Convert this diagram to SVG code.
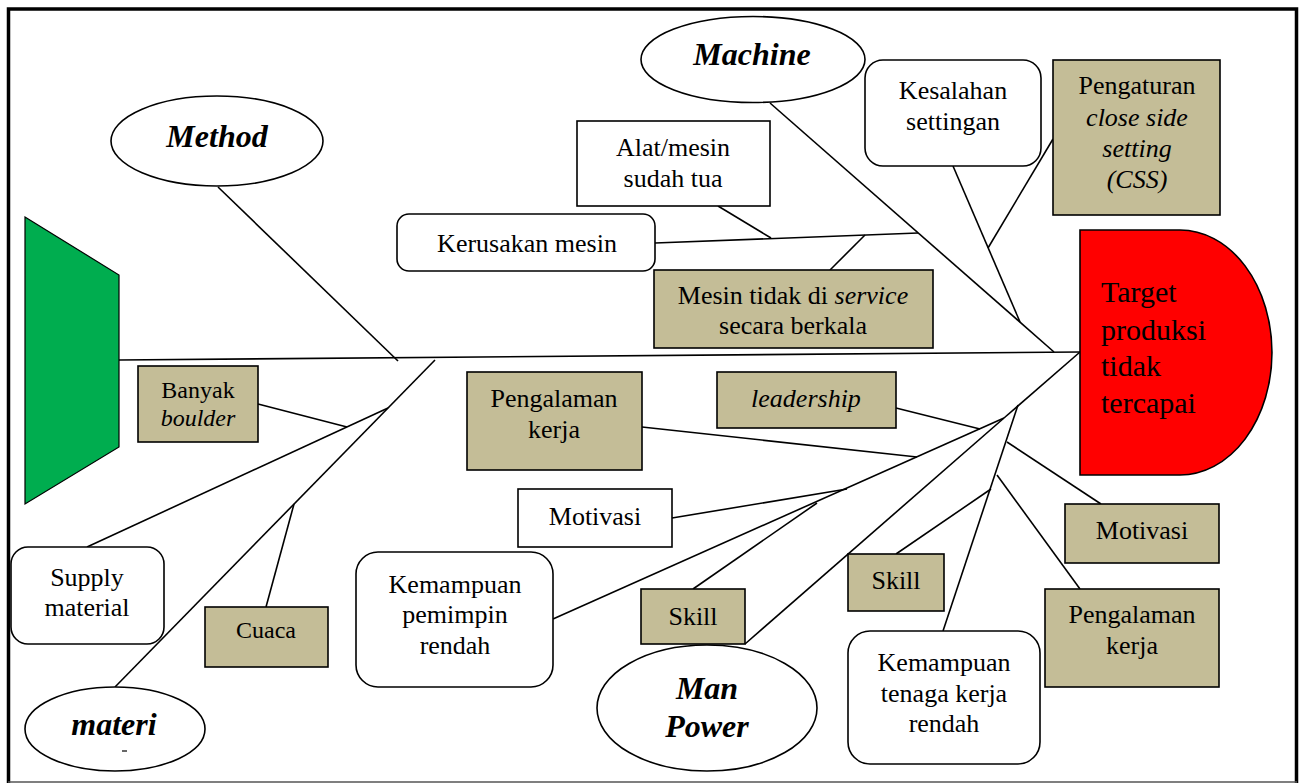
<svg xmlns="http://www.w3.org/2000/svg" width="1300" height="783" viewBox="0 0 1300 783">
<style>
.t{font-family:"Liberation Serif","Times New Roman",serif;font-size:26px;fill:#000;text-anchor:middle}
.s{font-size:24px}
.h{font-family:"Liberation Serif","Times New Roman",serif;font-size:32px;font-weight:bold;font-style:italic;text-anchor:middle}
.i{font-style:italic}
.tan{fill:#C4BD97;stroke:#000;stroke-width:1.6}
.wht{fill:#fff;stroke:#000;stroke-width:1.6}
.ell{fill:#fff;stroke:#000;stroke-width:1.6}
.c line{stroke:#000;stroke-width:1.6}
</style>
<rect x="0" y="0" width="1300" height="783" fill="#fff"/>
<g id="frame">
<path d="M8.5,783 V9 H1296.5 V783" fill="none" stroke="#000" stroke-width="3.5"/>
<line x1="8" y1="782" x2="1297" y2="782" stroke="#555" stroke-width="1.5"/>
</g>
<g class="c" id="connectors">
<line x1="119" y1="360" x2="1080" y2="352"/>
<line x1="218" y1="187" x2="398" y2="361"/>
<line x1="115" y1="687" x2="435" y2="360"/>
<line x1="87" y1="547" x2="388" y2="408"/>
<line x1="258" y1="404" x2="347" y2="427"/>
<line x1="266" y1="607" x2="294" y2="504"/>
<line x1="770" y1="103" x2="1054" y2="352"/>
<line x1="655" y1="243" x2="918" y2="233"/>
<line x1="718" y1="206" x2="771" y2="238"/>
<line x1="830" y1="270" x2="865" y2="235"/>
<line x1="953" y1="166" x2="1020" y2="322"/>
<line x1="1053" y1="139" x2="988" y2="248"/>
<line x1="1080" y1="352" x2="1004" y2="418"/>
<line x1="1004" y1="418" x2="553" y2="619"/>
<line x1="1004" y1="418" x2="745" y2="644"/>
<line x1="896" y1="408" x2="980" y2="429"/>
<line x1="642" y1="427" x2="917" y2="457"/>
<line x1="672" y1="518" x2="847" y2="489"/>
<line x1="693" y1="589" x2="817" y2="503"/>
<line x1="1018" y1="405" x2="943" y2="631"/>
<line x1="1101" y1="504" x2="1007" y2="442"/>
<line x1="1080" y1="589" x2="997" y2="475"/>
<line x1="896" y1="554" x2="991" y2="489"/>
</g>
<g id="tail"><polygon points="25,217 119,275 119,447 25,504" fill="#00AD4F" stroke="#000" stroke-width="1.2"/></g>
<g id="head">
<path d="M1080,230 H1180 A92,122.5 0 0 1 1180,475 H1080 Z" fill="#FF0000" stroke="#000" stroke-width="1.6"/>
<text font-family="Liberation Serif,'Times New Roman',serif" font-size="30" x="1101" y="302">Target</text>
<text font-family="Liberation Serif,'Times New Roman',serif" font-size="30" x="1101" y="340">produksi</text>
<text font-family="Liberation Serif,'Times New Roman',serif" font-size="30" x="1101" y="376">tidak</text>
<text font-family="Liberation Serif,'Times New Roman',serif" font-size="30" x="1101" y="413">tercapai</text>
</g>
<g id="method"><ellipse class="ell" cx="217" cy="141" rx="106" ry="45"/><text class="h" x="217" y="147">Method</text></g>
<g id="machine"><ellipse class="ell" cx="753" cy="59.5" rx="112" ry="43"/><text class="h" x="752" y="65">Machine</text></g>
<g id="materi"><ellipse class="ell" cx="115" cy="729" rx="90" ry="42"/><text class="h" x="114" y="735">materi</text><line x1="122" y1="751" x2="127" y2="751" stroke="#000" stroke-width="1.2"/></g>
<g id="manpower"><ellipse class="ell" cx="707" cy="708" rx="110" ry="63"/><text class="h" x="707" y="699">Man</text><text class="h" x="707" y="737">Power</text></g>
<g id="banyak"><rect class="tan" x="138" y="366" width="120" height="76"/><text class="t s" x="198" y="398">Banyak</text><text class="t s i" x="198" y="426">boulder</text></g>
<g id="supply"><rect class="wht" x="11" y="547" width="153" height="97" rx="17"/><text class="t" x="87" y="586">Supply</text><text class="t" x="87" y="616">material</text></g>
<g id="cuaca"><rect class="tan" x="205" y="607" width="123" height="60"/><text class="t s" x="266" y="638">Cuaca</text></g>
<g id="kerusakan"><rect class="wht" x="397" y="214" width="258" height="57" rx="12"/><text class="t" x="527" y="252">Kerusakan mesin</text></g>
<g id="alat"><rect class="wht" x="577" y="121" width="193" height="85"/><text class="t" x="673" y="156">Alat/mesin</text><text class="t" x="673" y="187">sudah tua</text></g>
<g id="service"><rect class="tan" x="654" y="270" width="279" height="78"/><text class="t" x="793" y="304">Mesin tidak di <tspan class="i">service</tspan></text><text class="t" x="793" y="334">secara berkala</text></g>
<g id="kesalahan"><rect class="wht" x="865" y="60" width="176" height="106" rx="18"/><text class="t" x="953" y="99">Kesalahan</text><text class="t" x="953" y="130">settingan</text></g>
<g id="css"><rect class="tan" x="1053" y="60" width="167" height="155"/><text class="t" x="1137" y="94">Pengaturan</text><text class="t i" x="1137" y="126">close side</text><text class="t i" x="1137" y="157">setting</text><text class="t i" x="1137" y="188">(CSS)</text></g>
<g id="pengalaman1"><rect class="tan" x="467" y="372" width="175" height="98"/><text class="t" x="554" y="407">Pengalaman</text><text class="t" x="554" y="438">kerja</text></g>
<g id="leadership"><rect class="tan" x="717" y="372" width="179" height="56"/><text class="t i" x="806" y="407">leadership</text></g>
<g id="motivasi1"><rect class="wht" x="518" y="489" width="154" height="58"/><text class="t" x="595" y="525">Motivasi</text></g>
<g id="pemimpin"><rect class="wht" x="356" y="552" width="197" height="135" rx="22"/><text class="t" x="455" y="593">Kemampuan</text><text class="t" x="455" y="623">pemimpin</text><text class="t" x="455" y="654">rendah</text></g>
<g id="skill1"><rect class="tan" x="641" y="589" width="104" height="55"/><text class="t" x="693" y="625">Skill</text></g>
<g id="skill2"><rect class="tan" x="848" y="554" width="96" height="57"/><text class="t" x="896" y="589">Skill</text></g>
<g id="motivasi2"><rect class="tan" x="1065" y="504" width="154" height="59"/><text class="t" x="1142" y="539">Motivasi</text></g>
<g id="pengalaman2"><rect class="tan" x="1045" y="589" width="174" height="98"/><text class="t" x="1132" y="623">Pengalaman</text><text class="t" x="1132" y="654">kerja</text></g>
<g id="tenaga"><rect class="wht" x="848" y="631" width="192" height="133" rx="22"/><text class="t" x="944" y="671">Kemampuan</text><text class="t" x="944" y="702">tenaga kerja</text><text class="t" x="944" y="732">rendah</text></g>
</svg>
